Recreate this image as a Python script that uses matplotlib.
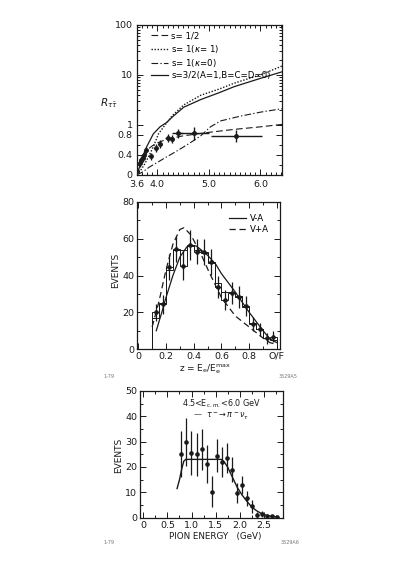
import numpy as np
import matplotlib.pyplot as plt
from matplotlib.lines import Line2D

# ---- panel 1: R_tautau vs E_cm ----
e_cm = [3.61, 3.66, 3.69, 3.71, 3.74, 3.78, 3.87, 3.97, 4.05, 4.20, 4.28, 4.39, 4.70, 5.53]
r_tt = [0.08, 0.23, 0.30, 0.33, 0.39, 0.49, 0.37, 0.54, 0.62, 0.74, 0.71, 0.83, 0.83, 0.78]
r_tt_err = [0.05, 0.08, 0.08, 0.08, 0.08, 0.07, 0.07, 0.08, 0.08, 0.08, 0.08, 0.09, 0.13, 0.12]
e_cm_err = [0, 0, 0, 0, 0, 0.03, 0.03, 0.03, 0.03, 0.05, 0.05, 0.1, 0.3, 0.5]

s_half_x = [3.6, 3.63, 3.66, 3.7, 3.8, 3.9, 4.0, 4.2, 4.5, 5.0, 5.5, 6.0, 6.42]
s_half_y = [0.0, 0.18, 0.27, 0.36, 0.50, 0.58, 0.64, 0.72, 0.78, 0.85, 0.91, 0.96, 1.02]
s_one_k1_x = [3.6, 3.68, 3.76, 3.84, 3.92, 4.02, 4.15, 4.28, 4.51, 4.84, 5.2, 5.49, 6.0, 6.42]
s_one_k1_y = [0.0, 0.10, 0.23, 0.39, 0.56, 0.82, 1.0, 1.5, 2.5, 3.9, 5.2, 6.8, 10.0, 15.0]
s_one_k0_x = [3.6, 3.7, 3.85, 4.0, 4.18, 4.35, 4.51, 4.68, 4.84, 5.03, 5.23, 5.62, 6.01, 6.42]
s_one_k0_y = [0.0, 0.05, 0.16, 0.25, 0.36, 0.46, 0.56, 0.67, 0.78, 0.96, 1.2, 1.5, 1.8, 2.1]
s_3half_x = [3.6, 3.65, 3.7, 3.79, 3.92, 4.05, 4.18, 4.31, 4.51, 4.84, 5.2, 5.49, 6.0, 6.42]
s_3half_y = [0.0, 0.15, 0.32, 0.56, 0.82, 0.96, 1.12, 1.5, 2.25, 3.2, 4.4, 5.8, 8.5, 11.5]

# ---- panel 2: electron momentum spectrum ----
z_bins = [0.125, 0.175, 0.225, 0.275, 0.325, 0.375, 0.425, 0.475, 0.525,
          0.575, 0.625, 0.675, 0.725, 0.775, 0.825, 0.875, 0.925, 0.975]
z_events = [20.0, 24.3, 44.5, 54.3, 45.3, 56.6, 53.0, 52.6, 47.5,
            33.6, 26.7, 30.6, 28.5, 23.4, 13.6, 10.7, 5.8, 6.7]
z_err = [4.5, 5, 7, 7, 8, 8, 7, 7, 7, 6, 5.5, 6, 6, 5.5, 4, 3.5, 3, 3]
z_mc = [17, 25, 43, 54, 54, 56, 54, 52, 47, 36, 31, 31, 29, 23, 14, 11, 6, 5]
va_minus_x = [0.13, 0.17, 0.2, 0.25, 0.3, 0.35, 0.38, 0.42, 0.5, 0.56, 0.6,
              0.7, 0.8, 0.85, 0.9, 0.95, 1.0]
va_minus_y = [10, 20, 28, 40, 50, 55.5, 56.5, 56, 51, 46, 41, 31, 20, 15, 10, 5.5, 3.5]
va_plus_x = [0.1, 0.15, 0.2, 0.25, 0.3, 0.33, 0.38, 0.45, 0.51, 0.6, 0.7,
             0.8, 0.85, 0.9, 0.95, 1.0]
va_plus_y = [12, 26, 43, 57, 65, 66, 62, 52, 42, 28, 18, 12, 9, 6, 3.5, 2.5]

# ---- panel 3: pion energy spectrum ----
pi_e = [0.78, 0.885, 0.99, 1.11, 1.21, 1.32, 1.43, 1.52, 1.63, 1.73,
        1.84, 1.94, 2.05, 2.15, 2.25, 2.36, 2.46, 2.57, 2.67, 2.77]
pi_events = [25, 30, 25.5, 25, 27, 21, 10.3, 24.5, 22, 23.5,
             19, 9.7, 13, 7.7, 4.5, 1.0, 1.6, 0.8, 0.5, 0.3]
pi_err = [9, 9.5, 8.5, 8.5, 8, 7.5, 6, 6.5, 6, 6,
          5, 4, 3.5, 3, 2.5, 1.2, 1.2, 0.8, 0.6, 0.5]
pi_fit_x = [0.70, 0.75, 0.80, 0.84, 0.88, 0.95, 1.2, 1.5, 1.62, 1.68, 1.75,
            1.85, 1.95, 2.05, 2.15, 2.25, 2.35, 2.45, 2.55, 2.65, 2.75]
pi_fit_y = [11.5, 15, 19.5, 22.3, 23, 23, 23, 23, 23, 22, 20,
            16, 12, 9, 6.5, 4.3, 2.8, 1.7, 1.0, 0.6, 0.4]

ink = '#1a1a1a'
fs = 6.8
plt.rcParams['font.family'] = 'DejaVu Sans'
plt.rcParams['axes.linewidth'] = 0.9

fig = plt.figure(figsize=(3.99, 5.64), dpi=100)


def style(ax):
    ax.tick_params(which='both', direction='in', top=True, right=True,
                   labelsize=fs, colors=ink, width=0.7, pad=2)
    ax.tick_params(which='major', length=4)
    ax.tick_params(which='minor', length=2.5)
    for sp in ax.spines.values():
        sp.set_color(ink)


# linear below 1, log above 1
def fwd(y):
    y = np.asarray(y, dtype=float)
    return np.where(y <= 1, y, 1 + np.log10(np.maximum(y, 1e-9)))


def inv(y):
    y = np.asarray(y, dtype=float)
    return np.where(y <= 1, y, 10 ** (np.minimum(y, 10) - 1))


ax1 = fig.add_axes([0.343, 0.690, 0.364, 0.266])
ax1.set_yscale('function', functions=(fwd, inv))
ax1.plot(s_half_x, s_half_y, color=ink, lw=0.8, dashes=(6, 3))
ax1.plot(s_one_k1_x, s_one_k1_y, color=ink, lw=1.0, dashes=(1, 1.2))
ax1.plot(s_one_k0_x, s_one_k0_y, color=ink, lw=0.8, dashes=(6, 2, 1.2, 2))
ax1.plot(s_3half_x, s_3half_y, color=ink, lw=0.9)
ax1.errorbar(e_cm, r_tt, yerr=r_tt_err, xerr=e_cm_err, fmt='o', ms=2.5,
             color=ink, elinewidth=1.0, capsize=0)
ax1.set_xlim(3.6, 6.42)
ax1.set_ylim(0, 100)
ax1.set_xticks([3.6, 4.0, 5.0, 6.0])
ax1.set_xticklabels(['3.6', '4.0', '5.0', '6.0'])
ax1.set_xticks(np.arange(3.7, 6.41, 0.1), minor=True)
ax1.set_yticks([0, 0.4, 0.8, 1, 10, 100])
ax1.set_yticklabels(['0', '0.4', '0.8', '1', '10', '100'])
ax1.set_yticks([0.2, 0.6] + [k for k in range(2, 10)] + [10 * k for k in range(2, 10)],
               minor=True)
style(ax1)
ax1.tick_params(axis='x', pad=4)
ax1.tick_params(axis='y', pad=3)
handles = [Line2D([], [], color=ink, lw=0.8, dashes=(6, 3)),
           Line2D([], [], color=ink, lw=1.0, dashes=(1, 1.2)),
           Line2D([], [], color=ink, lw=0.8, dashes=(6, 2, 1.2, 2)),
           Line2D([], [], color=ink, lw=0.9)]
labels = ['s= 1/2', 's= 1($\\kappa$= 1)', 's= 1($\\kappa$=0)', 's=3/2(A=1,B=C=D=0)']
ax1.legend(handles, labels, loc='upper left', bbox_to_anchor=(0.06, 0.99),
           frameon=False, fontsize=6.2, handlelength=2.0, handletextpad=0.4,
           labelspacing=0.25, borderaxespad=0.2)
fig.text(0.274, 0.817, r'$R_{\tau\bar\tau}$', fontsize=7.5, color=ink,
         ha='center', va='center')

# panel 2
ax2 = fig.add_axes([0.343, 0.381, 0.358, 0.261])
edges = [b - 0.025 for b in z_bins] + [z_bins[-1] + 0.025]
ax2.stairs(z_mc, edges, color=ink, lw=0.7)
ax2.stairs(z_events, edges, color=ink, lw=0.7)
ax2.errorbar(z_bins, z_events, yerr=z_err, fmt='o', ms=2.3, color=ink,
             elinewidth=0.9, capsize=0)
ax2.plot(va_minus_x, va_minus_y, color=ink, lw=0.9, label='V-A')
ax2.plot(va_plus_x, va_plus_y, color=ink, lw=0.9, dashes=(5, 3), label='V+A')
ax2.set_xlim(-0.01, 1.02)
ax2.set_ylim(0, 80)
ax2.set_xticks([0, 0.2, 0.4, 0.6, 0.8, 1.0])
ax2.set_xticklabels(['0', '0.2', '0.4', '0.6', '0.8', 'O/F'])
ax2.set_xticks(np.arange(0.1, 1.0, 0.2), minor=True)
ax2.set_yticks([0, 20, 40, 60, 80])
ax2.set_yticks([10, 30, 50, 70], minor=True)
style(ax2)
ax2.legend(loc='upper right', bbox_to_anchor=(0.98, 0.97), frameon=False,
           fontsize=6.2, handlelength=2.0, handletextpad=0.5, labelspacing=0.25)
fig.text(0.291, 0.521, 'EVENTS', rotation=90, fontsize=6.5, color=ink,
         ha='center', va='center')
fig.text(0.514, 0.346, r'z = E$_\mathrm{e}$/E$_\mathrm{e}^\mathrm{max}$', fontsize=6.5,
         color=ink, ha='center', va='center')
fig.text(0.272, 0.333, '1-79', fontsize=3.5, color='#777777', ha='center', va='center')
fig.text(0.722, 0.333, '3529A5', fontsize=3.5, color='#777777', ha='center', va='center')

# panel 3
ax3 = fig.add_axes([0.351, 0.082, 0.358, 0.225])
ax3.errorbar(pi_e, pi_events, yerr=pi_err, fmt='o', ms=2.3, color=ink,
             elinewidth=0.9, capsize=0)
ax3.plot(pi_fit_x, pi_fit_y, color=ink, lw=1.0)
ax3.set_xlim(-0.07, 2.9)
ax3.set_ylim(0, 50)
ax3.set_xticks([0, 0.5, 1.0, 1.5, 2.0, 2.5])
ax3.set_xticklabels(['0', '0.5', '1.0', '1.5', '2.0', '2.5'])
ax3.set_xticks([0.25, 0.75, 1.25, 1.75, 2.25, 2.75], minor=True)
ax3.set_yticks([0, 10, 20, 30, 40, 50])
ax3.set_yticks([5, 15, 25, 35, 45], minor=True)
style(ax3)
ax3.text(0.57, 0.90, r'4.5<E$_\mathrm{c.m.}$<6.0 GeV', transform=ax3.transAxes,
         fontsize=5.8, color=ink, ha='center', va='center')
ax3.text(0.57, 0.80, r'—  $\tau^-\!\rightarrow\pi^-\nu_\tau$', transform=ax3.transAxes,
         fontsize=5.8, color=ink, ha='center', va='center')
fig.text(0.298, 0.193, 'EVENTS', rotation=90, fontsize=6.5, color=ink,
         ha='center', va='center')
fig.text(0.539, 0.048, 'PION ENERGY   (GeV)', fontsize=6.3, color=ink,
         ha='center', va='center')
fig.text(0.272, 0.038, '1-79', fontsize=3.5, color='#777777', ha='center', va='center')
fig.text(0.728, 0.038, '3529A6', fontsize=3.5, color='#777777', ha='center', va='center')

fig.savefig('out.png', dpi=100)
